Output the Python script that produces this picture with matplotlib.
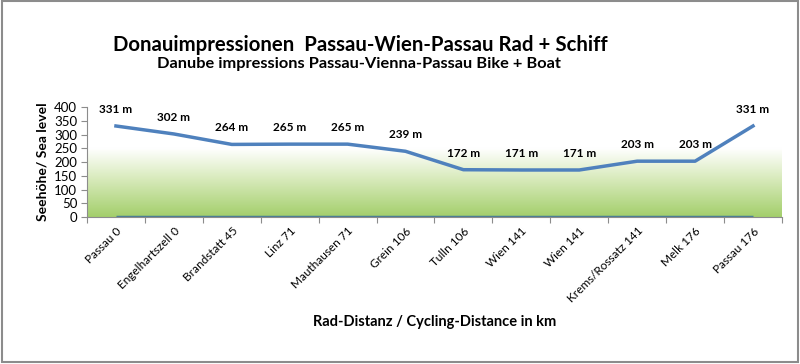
import matplotlib
matplotlib.use("Agg")
import matplotlib.pyplot as plt
import numpy as np
from matplotlib.patches import Rectangle
from matplotlib.colors import LinearSegmentedColormap

plt.rcParams['font.family'] = ['Lato', 'DejaVu Sans']

categories = ["Passau 0", "Engelhartszell 0", "Brandstatt 45", "Linz 71", "Mauthausen 71",
              "Grein 106", "Tulln 106", "Wien 141", "Wien 141", "Krems/Rossatz 141",
              "Melk 176", "Passau 176"]
elevation = [331, 302, 264, 265, 265, 239, 172, 171, 171, 203, 203, 331]
baseline = [0] * 12
yticks = [0, 50, 100, 150, 200, 250, 300, 350, 400]

fig = plt.figure(figsize=(8, 3.64), dpi=100)
fig.patch.set_facecolor('white')
fig.add_artist(Rectangle((0.002, 0.006), 0.995, 0.99, transform=fig.transFigure,
                         fill=False, edgecolor='#8c8c8c', linewidth=1.5))

ax = fig.add_axes([0.10875, 0.4038, 0.8687, 0.3022])
n = len(categories)
x = np.arange(n)
ax.set_xlim(-0.5, n - 0.5)
ax.set_ylim(0, 400)

# gradient background
cmap = LinearSegmentedColormap.from_list('g', [(0.0, (0.64, 0.81, 0.42)),
                                               (0.35, (0.85, 0.92, 0.74)),
                                               (0.62, (1, 1, 1)),
                                               (1.0, (1, 1, 1))])
grad = np.linspace(0, 1, 256).reshape(-1, 1)
ax.imshow(grad, aspect='auto', cmap=cmap, origin='lower',
          extent=(-0.5, n - 0.5, 0, 400), zorder=0)

ax.plot(x, baseline, color='#4a7e95', linewidth=2.5, zorder=2, solid_capstyle='butt')
ax.plot(x, elevation, color='#4f81bd', linewidth=2.5, zorder=3)

for xi, v in zip(x, elevation):
    ax.annotate(f"{v} m", (xi, v), xytext=(0, 8), textcoords='offset points',
                ha='center', va='bottom', fontsize=8.5, fontweight='bold', color='black')

for s in ['top', 'right']:
    ax.spines[s].set_visible(False)
ax.spines['left'].set_color('#8c8c8c')
ax.spines['bottom'].set_color('#8c8c8c')

ax.set_yticks(yticks)
ax.set_yticklabels([str(t) for t in yticks], fontsize=9.5)
ax.tick_params(axis='y', length=4, color='#8c8c8c', pad=3)

ax.set_xticks(np.arange(n + 1) - 0.5, minor=False)
ax.set_xticklabels([])
ax.tick_params(axis='x', which='major', length=4, color='#8c8c8c')
ax.set_xticks(x, minor=True)
ax.set_xticklabels(categories, minor=True, rotation=45, ha='right', rotation_mode='anchor',
                   fontsize=8.5)
ax.tick_params(axis='x', which='minor', length=0, pad=6)

ax.set_ylabel("Seehöhe/ Sea level", fontsize=10, fontweight='bold', labelpad=4)

fig.text(0.543, 0.116, "Rad-Distanz / Cycling-Distance in km", ha='center', va='center',
         fontsize=10.5, fontweight='bold')
fig.text(0.45, 0.876, "Donauimpressionen  Passau-Wien-Passau Rad + Schiff", ha='center',
         va='center', fontsize=14.7, fontweight='bold')
fig.text(0.449, 0.824, "Danube impressions Passau-Vienna-Passau Bike + Boat", ha='center',
         va='center', fontsize=11.8, fontweight='bold')

fig.savefig("out.png", dpi=100)
